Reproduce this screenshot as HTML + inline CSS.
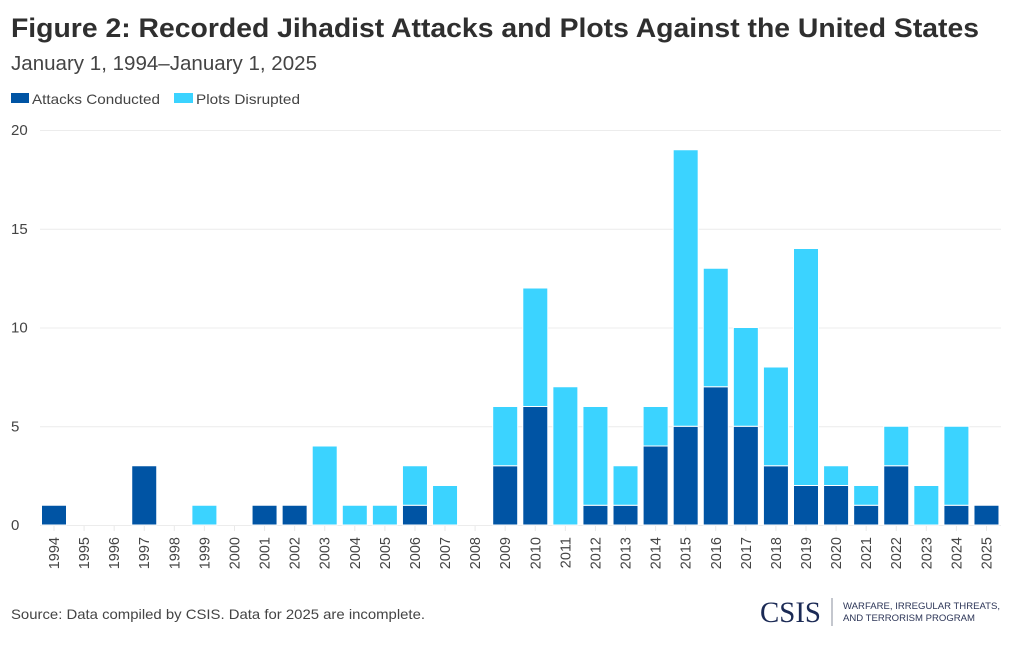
<!DOCTYPE html>
<html lang="en">
<head>
<meta charset="utf-8">
<title>Figure 2: Recorded Jihadist Attacks and Plots Against the United States</title>
<style>
html,body{margin:0;padding:0;background:#fff;width:1020px;height:650px;overflow:hidden}
svg{display:block;font-family:"Liberation Sans",sans-serif}
</style>
</head>
<body>
<svg id="chart" width="1020" height="650" viewBox="0 0 1020 650" xmlns="http://www.w3.org/2000/svg">
<rect width="1020" height="650" fill="#fff"/>
<text x="11" y="37" font-size="27" font-weight="700" fill="#2f2f2f" textLength="968" lengthAdjust="spacingAndGlyphs">Figure 2: Recorded Jihadist Attacks and Plots Against the United States</text>
<text x="11" y="70" font-size="20" fill="#444" textLength="306" lengthAdjust="spacingAndGlyphs">January 1, 1994–January 1, 2025</text>
<g>
<rect x="11" y="93" width="18" height="10" fill="#0054a4"/>
<text x="32" y="104" font-size="14" fill="#444" textLength="128" lengthAdjust="spacingAndGlyphs">Attacks Conducted</text>
<rect x="174" y="93" width="19" height="10" fill="#3bd3ff"/>
<text x="196" y="104" font-size="14" fill="#444" textLength="104" lengthAdjust="spacingAndGlyphs">Plots Disrupted</text>
</g>
<g id="grid"></g>
<g id="yticks"></g>
<g id="bars"></g>
<g id="xticks"></g>
<text x="11" y="619" font-size="14" fill="#444" textLength="414" lengthAdjust="spacingAndGlyphs">Source: Data compiled by CSIS. Data for 2025 are incomplete.</text>
<g>
<text x="760" y="622" font-family="'Liberation Serif',serif" font-size="30" fill="#1b2a55" textLength="61" lengthAdjust="spacingAndGlyphs">CSIS</text>
<rect x="831.5" y="598" width="1" height="28" fill="#8a8f9c"/>
<text x="843" y="609" font-size="9" fill="#2c3557" textLength="157" lengthAdjust="spacingAndGlyphs">WARFARE, IRREGULAR THREATS,</text>
<text x="843" y="621" font-size="9" fill="#2c3557" textLength="132" lengthAdjust="spacingAndGlyphs">AND TERRORISM PROGRAM</text>
</g>
</svg>
<script>
const years = [1994,1995,1996,1997,1998,1999,2000,2001,2002,2003,2004,2005,2006,2007,2008,2009,2010,2011,2012,2013,2014,2015,2016,2017,2018,2019,2020,2021,2022,2023,2024,2025];
const attacksConducted = [1,0,0,3,0,0,0,1,1,0,0,0,1,0,0,3,6,0,1,1,4,5,7,5,3,2,2,1,3,0,1,1];
const plotsDisrupted = [0,0,0,0,0,1,0,0,0,4,1,1,2,2,0,3,6,7,5,2,2,14,6,5,5,12,1,1,2,2,4,0];
const yTicks = [0,5,10,15,20];

const NS = 'http://www.w3.org/2000/svg';
const x0 = 54, xStep = 30.08, barW = 25;
const yZero = 525, yPerUnit = 19.75;
const xScale = i => x0 + i * xStep;
const yScale = v => yZero - v * yPerUnit;

function make(tag, attrs, parent) {
  const el = document.createElementNS(NS, tag);
  for (const k in attrs) el.setAttribute(k, attrs[k]);
  parent.appendChild(el);
  return el;
}

const grid = document.getElementById('grid');
const yLabels = document.getElementById('yticks');
yTicks.forEach(t => {
  const line = make('line', {x1: 40, x2: 1001, y1: yScale(t) + 0.5, y2: yScale(t) + 0.5, stroke: '#ececec', 'stroke-width': 1}, grid);
  
  
  const label = make('text', {x: 11, y: yScale(t) + 5, 'font-size': 15, fill: '#444'}, yLabels);
  
  
  label.textContent = t;
});

const bars = document.getElementById('bars');
const xLabels = document.getElementById('xticks');
years.forEach((year, i) => {
  const cx = xScale(i);
  const a = attacksConducted[i], p = plotsDisrupted[i];
  if (a > 0) {
    const r = make('rect', {x: cx - barW / 2, y: yScale(a), width: barW, height: yScale(0) - yScale(a), fill: '#0054a4', stroke: '#fff', 'stroke-width': 1}, bars);
    
    
  }
  if (p > 0) {
    const r = make('rect', {x: cx - barW / 2, y: yScale(a + p), width: barW, height: yScale(a) - yScale(a + p), fill: '#3bd3ff', stroke: '#fff', 'stroke-width': 1}, bars);
    
    
  }
  const tick = make('line', {x1: cx, x2: cx, y1: 526, y2: 531, stroke: '#e9e9e9', 'stroke-width': 1}, xLabels);
  
  
  const label = make('text', {transform: 'translate(' + (cx + 5) + ',537) rotate(-90)', 'text-anchor': 'end', 'font-size': 14.5, fill: '#444'}, xLabels);
  
  
  label.textContent = year;
});
</script>
</body>
</html>
